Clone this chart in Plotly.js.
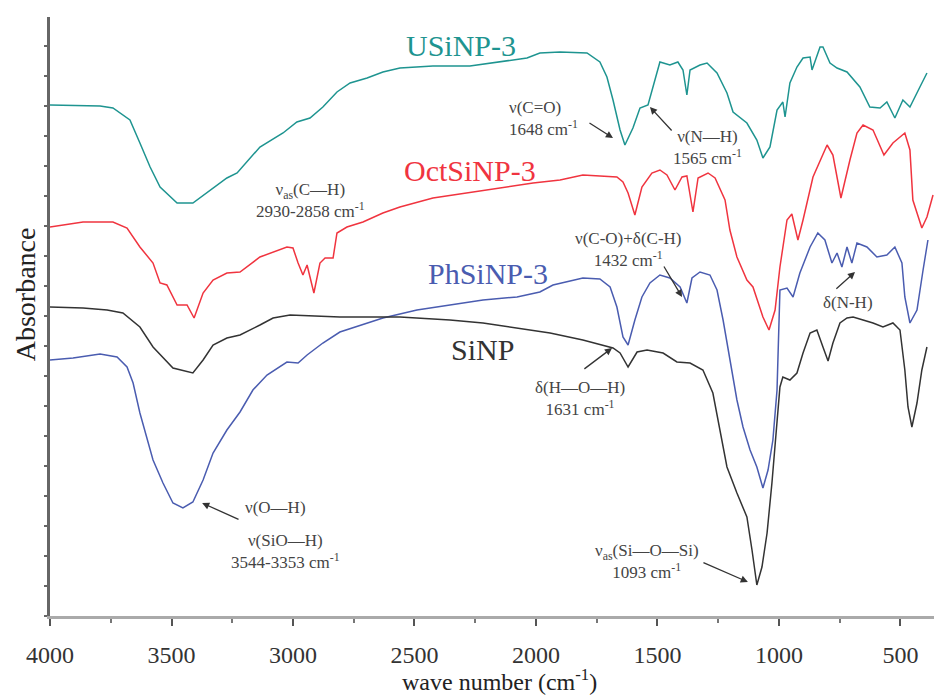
<!DOCTYPE html>
<html>
<head>
<meta charset="utf-8">
<script src="https://cdn.plot.ly/plotly-3.0.1.min.js"></script>
<style>html,body{margin:0;padding:0;background:#fff;}#chart{width:934px;height:695px;}</style>
</head>
<body>
<div id="chart"></div>
<script>
// Wavenumbers (cm^-1) and absorbance (arbitrary units, offset stacked)
const wnU = [4000,3794,3741,3671,3630,3588,3547,3477,3412,3354,3272,3230,3136,3041,2984,2930,2877,2819,2765,2695,2630,2560,2424,2272,2177,2037,1984,1901,1790,1737,1708,1683,1654,1634,1601,1572,1539,1519,1490,1449,1416,1395,1379,1366,1325,1296,1255,1214,1189,1132,1091,1066,1037,1008,984,975,955,926,901,872,864,831,819,790,761,720,667,626,584,556,523,490,461,420,391];
const absU = [511,510,508,496,473,449,429,413,413,423,438,443,469,483,494,498,509,524,533,538,544,548,550,550,553,558,563,564,563,554,539,516,486,471,488,508,511,529,554,551,554,546,521,546,551,553,543,523,504,493,476,458,469,506,514,499,533,549,558,559,546,569,569,553,548,544,529,509,508,514,498,516,509,529,543];

const wnOct = [4000,3864,3741,3683,3630,3576,3547,3519,3477,3436,3407,3370,3329,3272,3218,3136,3025,3000,2979,2959,2942,2914,2889,2868,2835,2819,2778,2712,2630,2560,2424,2284,2148,2012,1901,1807,1667,1642,1621,1593,1564,1523,1490,1461,1428,1399,1379,1354,1333,1292,1263,1222,1202,1173,1132,1107,1066,1041,1016,996,967,947,922,901,860,802,778,745,708,679,654,613,568,531,482,461,449,412,391,366];
const absOct = [389,394,394,388,369,353,333,331,311,311,298,323,336,343,344,359,369,368,353,341,351,323,353,358,358,383,389,394,403,409,418,423,428,433,436,441,439,434,423,401,429,443,446,441,426,439,440,404,438,443,438,416,386,359,336,329,299,286,306,349,396,402,376,396,439,471,461,418,456,483,491,486,461,473,483,466,416,388,399,421];

const wnPh = [4000,3905,3794,3724,3683,3658,3630,3601,3576,3535,3494,3453,3412,3370,3329,3272,3218,3165,3107,3025,2979,2942,2877,2807,2630,2490,2354,2218,2078,1984,1930,1807,1737,1695,1667,1642,1621,1593,1564,1531,1490,1449,1407,1379,1358,1325,1284,1255,1230,1202,1173,1148,1119,1091,1066,1045,1025,1008,996,967,942,914,872,840,811,782,761,741,720,700,679,638,597,556,523,494,482,461,432,407,387];
const absPh = [256,258,262,259,249,233,203,179,156,133,113,108,114,136,163,186,204,226,241,254,253,261,273,284,298,306,311,316,319,324,331,338,337,329,309,279,271,296,319,333,341,338,329,313,338,344,341,326,296,256,216,189,166,149,128,146,176,226,326,328,319,343,369,383,376,353,363,349,369,353,373,369,359,361,369,353,319,293,306,346,376];

const wnSi = [4000,3864,3765,3700,3630,3576,3494,3412,3370,3329,3272,3218,3136,3082,3012,2807,2560,2354,2218,2078,1942,1807,1683,1654,1621,1584,1543,1477,1420,1366,1313,1272,1243,1214,1173,1132,1111,1091,1070,1049,1029,1008,996,984,955,926,901,872,844,819,798,778,749,720,695,654,613,572,531,502,482,469,453,432,412,391];
const absSi = [309,308,306,303,289,269,248,243,256,271,278,281,291,298,301,299,299,296,293,288,283,276,268,263,249,264,266,263,254,253,246,223,186,149,123,99,66,31,49,83,133,198,229,239,236,243,263,283,286,269,255,273,293,298,299,296,293,289,293,286,246,209,189,213,246,269];

const seriesNames = ['USiNP-3','OctSiNP-3','PhSiNP-3','SiNP'];
const seriesColors = ['#1e9490','#f0343f','#4a5cb0','#333333'];
const xTickVals = [4000,3500,3000,2500,2000,1500,1000,500];
const xTickText = ['4000','3500','3000','2500','2000','1500','1000','500'];

const serif = "'Liberation Serif', 'Times New Roman', Times, serif";
const X_RANGE = [4000, 362];
const Y_RANGE = [0, 599];
const px = wn => (X_RANGE[0] - wn) / (X_RANGE[0] - X_RANGE[1]);
const py = v => (v - Y_RANGE[0]) / (Y_RANGE[1] - Y_RANGE[0]);

const xs = [wnU, wnOct, wnPh, wnSi];
const ys = [absU, absOct, absPh, absSi];
const traces = xs.map((x,i)=>({
  x: x, y: ys[i], type:'scatter', mode:'lines', name: seriesNames[i],
  line:{color: seriesColors[i], width:1.5}, hoverinfo:'skip'
}));

// label positions (wavenumber, absorbance)
const labelPos = [[2309,571],[2272,446],[2198,342],[2222,267]];
const annotations = labelPos.map((p,i)=>({
  x:px(p[0]), y:py(p[1]), xref:'paper', yref:'paper', text: seriesNames[i], showarrow:false,
  font:{family:serif, size:30, color: seriesColors[i]}, xanchor:'center', yanchor:'middle'
}));

const noteFont = {family:serif, size:17, color:'#444'};
const notes = [
  {x:2930, y:416, text:'ν<sub>as</sub>(C—H)<br>2930-2858 cm<sup>-1</sup>'},
  {x:2119, y:498, text:'ν(C=O)<br>1648 cm<sup>-1</sup>', xanchor:'left', align:'left'},
  {x:1296, y:469, text:'ν(N—H)<br>1565 cm<sup>-1</sup>'},
  {x:1621, y:367, text:'ν(C-O)+δ(C-H)<br>1432 cm<sup>-1</sup>'},
  {x:716, y:314, text:'δ(N-H)'},
  {x:1819, y:218, text:'δ(H—O—H)<br>1631 cm<sup>-1</sup>'},
  {x:3074, y:109, text:'ν(O—H)'},
  {x:3029, y:65, text:'ν(SiO—H)<br>3544-3353 cm<sup>-1</sup>'},
  {x:1543, y:55, text:'ν<sub>as</sub>(Si—O—Si)<br>1093 cm<sup>-1</sup>'}
];
notes.forEach(n=>annotations.push(Object.assign({xref:'paper', yref:'paper', showarrow:false, font:noteFont, xanchor:'center', yanchor:'middle', align:'center'}, n, {x:px(n.x), y:py(n.y)})));

// arrows: [headX, headY, tailX, tailY] in data units
const arrows = [
  [1683,478,1786,494],
  [1531,509,1436,484],
  [1399,319,1477,351],
  [687,344,770,326],
  [1687,268,1807,246],
  [3374,113,3218,96],
  [1128,34,1317,54]
];
arrows.forEach(a=>annotations.push({
  x:a[0], y:a[1], ax:a[2], ay:a[3], xref:'x', yref:'y', axref:'x', ayref:'y',
  text:'', showarrow:true, arrowhead:2, arrowsize:1.1, arrowwidth:1.3, arrowcolor:'#333', standoff:0
}));

// axis titles
annotations.push({xref:'paper', yref:'paper', x:-0.028, y:py(322), text:'Absorbance', textangle:-90,
  showarrow:false, font:{family:serif, size:28, color:'#222'}, xanchor:'center', yanchor:'middle'});
annotations.push({xref:'paper', yref:'paper', x:0.509, y:-0.107, text:'wave number (cm<sup>-1</sup>)',
  showarrow:false, font:{family:serif, size:24, color:'#222'}, xanchor:'center', yanchor:'middle'});

const layout = {
  width:934, height:695,
  margin:{l:50, r:0, t:17, b:79},
  paper_bgcolor:'#fff', plot_bgcolor:'#fff',
  showlegend:false,
  font:{family:serif},
  xaxis:{
    range:X_RANGE, showgrid:false, zeroline:false,
    showline:true, linecolor:'#aaaaaa', linewidth:3,
    ticks:'outside', ticklen:7, tickwidth:2, tickcolor:'#555',
    tickvals:xTickVals, ticktext:xTickText, ticklabelstandoff:8,
    tickfont:{family:serif, size:24, color:'#333'},
    minor:{dtick:250, tick0:0, ticks:'outside', ticklen:4, tickwidth:1.5, tickcolor:'#777'}
  },
  yaxis:{
    range:Y_RANGE, showgrid:false, zeroline:false,
    showline:true, linecolor:'#666', linewidth:2.5,
    ticks:'', showticklabels:false, tickvals:[],
    minor:{tick0:0, dtick:30, ticks:'outside', ticklen:3, tickwidth:1.5, tickcolor:'#666', showgrid:false}
  },
  annotations: annotations
};

Plotly.newPlot('chart', traces, layout, {displayModeBar:false});
</script>
</body>
</html>
